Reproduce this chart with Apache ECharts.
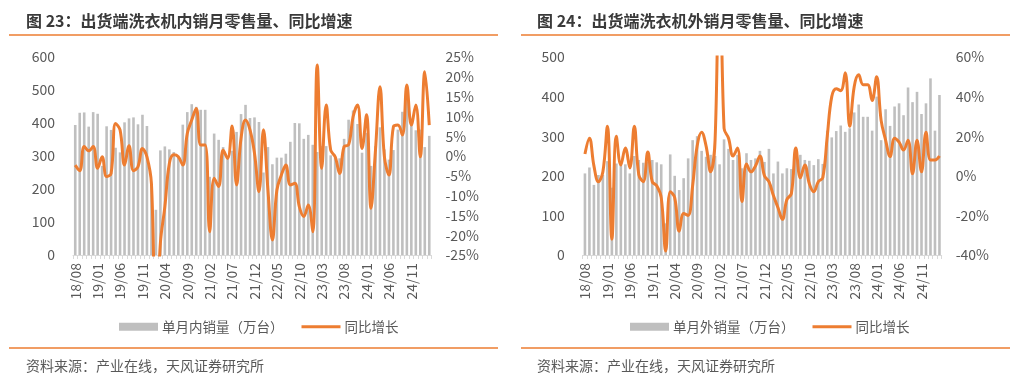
<!DOCTYPE html>
<html>
<head>
<meta charset="utf-8">
<script src="https://cdn.jsdelivr.net/npm/echarts@6/dist/echarts.min.js"></script>
<style>
html,body{margin:0;padding:0;background:#fff;}
#c{width:1030px;height:391px;}
</style>
</head>
<body>
<div id="c"></div>
<script>
const months = ["18/08","18/09","18/10","18/11","18/12",
"19/01","19/02","19/03","19/04","19/05","19/06","19/07","19/08","19/09","19/10","19/11","19/12",
"20/01","20/02","20/03","20/04","20/05","20/06","20/07","20/08","20/09","20/10","20/11","20/12",
"21/01","21/02","21/03","21/04","21/05","21/06","21/07","21/08","21/09","21/10","21/11","21/12",
"22/01","22/02","22/03","22/04","22/05","22/06","22/07","22/08","22/09","22/10","22/11","22/12",
"23/01","23/02","23/03","23/04","23/05","23/06","23/07","23/08","23/09","23/10","23/11","23/12",
"24/01","24/02","24/03","24/04","24/05","24/06","24/07","24/08","24/09","24/10","24/11","24/12",
"25/01","25/02","25/03"];

const domesticSales = [394,431,432,389,433,428,270,390,379,325,311,402,414,417,396,425,391,215,137,317,
329,320,312,295,395,433,457,449,440,440,237,368,349,327,300,316,373,427,455,415,
417,403,250,327,275,295,295,307,343,400,399,352,364,334,312,330,330,302,295,293,
352,410,438,397,310,370,270,330,387,320,289,318,380,434,480,400,378,380,327,361];

const domesticYoY = [-2.3,-3.7,2.4,1.3,2.4,-3.1,-0.2,-5.2,-4.4,8.2,6.6,-2.3,2.6,-3.7,-2.7,1.9,-0.2,-6.9,-45,-22,
-12.8,-1.9,0.3,-0.2,-2.3,5.7,9.1,12,2.8,2.8,-19.1,-5.6,-7.7,1.5,-0.6,7.6,-7.3,4.5,9.1,6.6,
0.7,-9,6.6,-8.6,-21.2,-8.6,-4.8,-2.3,-7.3,-6.9,-12.8,-15.3,-12.4,-19.1,23,-3.1,12.9,1.5,-0.2,-4.4,
2.4,2.8,9.9,12.9,1.9,10.4,-13.2,1.5,17.5,-0.3,-4.8,7.4,7.8,5.3,17.9,7.8,12.9,-0.2,21.3,7.8];

const exportSales = [206,221,177,202,202,237,170,231,229,229,206,250,240,233,236,240,234,229,80,254,
200,164,194,244,290,300,263,248,253,250,229,292,268,240,253,219,257,240,244,263,
235,268,206,236,206,219,217,254,253,240,238,227,242,230,314,297,313,327,311,320,
360,380,349,349,314,400,290,368,326,375,383,353,423,386,412,356,383,446,314,404];

const exportYoY = [11,19,5,-3,2,25,-32,20,5.5,14,4,25,0.5,-3,12,-3,-5,-11,-38,-8,
-11,-28,-19,-20,-5,15,22,15,2,18,120,24,19,10,14,-13,6,2,5,10,
0,-3,-10,-16,-22,-12,-9,14,-1,5.5,-4,-8,-3,-1,20,40,44,43,52,25,
45,51,46,46,38,50,28,18,9.7,19,17,13,18,1,18,2,22,8,8,10];

const leftTicks = {min:0,max:600,interval:100};
const leftPct = {min:-25,max:25,interval:5};
const rightTicks = {min:0,max:500,interval:100};
const rightPct = {min:-40,max:60,interval:20};

const GRAY = '#BFBFBF', ORANGE = '#ED7D31', TXT = '#595959';
const FONT = '"Noto Sans CJK SC","Noto Sans",sans-serif';
const LINE_ICON = 'path://M0,0 M0,8 M0,2.5 L40,2.5 L40,5.5 L0,5.5 Z';

function xAx(gi){
  return {type:'category',gridIndex:gi,data:months,boundaryGap:true,
    axisLine:{show:true,lineStyle:{color:'#D9D9D9',width:1}},
    axisTick:{show:true,interval:0,length:4,lineStyle:{color:'#D9D9D9'}},
    axisLabel:{interval:4,rotate:90,fontSize:14,color:TXT,margin:8,fontFamily:FONT},
    splitLine:{show:false}};
}
function yAx(gi,t,pos,pct,margin){
  return {type:'value',gridIndex:gi,position:pos,min:t.min,max:t.max,interval:t.interval,
    axisLine:{show:false},axisTick:{show:false},splitLine:{show:false},
    axisLabel:{fontSize:14,color:TXT,margin:margin,fontFamily:FONT,formatter:pct?'{value}%':'{value}'}};
}
function legend(left,barName){
  return {left:left,top:320,padding:0,itemWidth:39,itemHeight:8,itemGap:18,
    textStyle:{fontSize:13.5,color:TXT,fontFamily:FONT,padding:[0,0,0,-1]},
    data:[{name:barName,icon:'rect'},{name:'同比增长',icon:LINE_ICON,itemStyle:{color:ORANGE}}]};
}

const chart = echarts.init(document.getElementById('c'),null,{renderer:'canvas'});
chart.setOption({
  animation:false,
  textStyle:{fontFamily:FONT},
  title:[
    {text:'图 23：出货端洗衣机内销月零售量、同比增速',left:21,top:8,textStyle:{fontSize:16,fontWeight:'bold',color:'#3A3A3A',fontFamily:FONT}},
    {text:'图 24：出货端洗衣机外销月零售量、同比增速',left:532,top:8,textStyle:{fontSize:16,fontWeight:'bold',color:'#3A3A3A',fontFamily:FONT}},
    {text:'资料来源：产业在线，天风证券研究所',left:21,top:354,textStyle:{fontSize:14,fontWeight:'normal',color:TXT,fontFamily:FONT}},
    {text:'资料来源：产业在线，天风证券研究所',left:532,top:354,textStyle:{fontSize:14,fontWeight:'normal',color:TXT,fontFamily:FONT}}
  ],
  graphic:[
    {type:'line',shape:{x1:9,y1:35,x2:498,y2:35},style:{stroke:ORANGE,lineWidth:1.5}},
    {type:'line',shape:{x1:521,y1:35,x2:1010,y2:35},style:{stroke:ORANGE,lineWidth:1.5}},
    {type:'line',shape:{x1:9,y1:348,x2:498,y2:348},style:{stroke:ORANGE,lineWidth:1.5}},
    {type:'line',shape:{x1:521,y1:348,x2:1010,y2:348},style:{stroke:ORANGE,lineWidth:1.5}}
  ],
  legend:[legend(119,'单月内销量（万台）'),legend(630,'单月外销量（万台）')],
  grid:[
    {left:73,top:57,width:358.5,height:198},
    {left:582.7,top:57,width:359,height:198}
  ],
  xAxis:[xAx(0),xAx(1)],
  yAxis:[
    yAx(0,leftTicks,'left',false,18),
    yAx(0,leftPct,'right',true,14),
    yAx(1,rightTicks,'left',false,18),
    yAx(1,rightPct,'right',true,14)
  ],
  series:[
    {name:'单月内销量（万台）',type:'bar',xAxisIndex:0,yAxisIndex:0,data:domesticSales,barWidth:'58%',itemStyle:{color:GRAY}},
    {name:'同比增长',type:'line',xAxisIndex:0,yAxisIndex:1,data:domesticYoY,smooth:0.4,symbol:'none',clip:true,
     lineStyle:{color:ORANGE,width:3},itemStyle:{color:ORANGE},z:3},
    {name:'单月外销量（万台）',type:'bar',xAxisIndex:1,yAxisIndex:2,data:exportSales,barWidth:'58%',itemStyle:{color:GRAY}},
    {name:'同比增长',type:'line',xAxisIndex:1,yAxisIndex:3,data:exportYoY,smooth:0.4,symbol:'none',clip:true,
     lineStyle:{color:ORANGE,width:3},itemStyle:{color:ORANGE},z:3}
  ]
});
</script>
</body>
</html>
